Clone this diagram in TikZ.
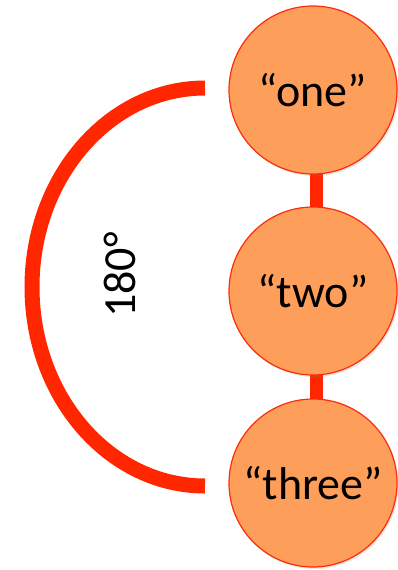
\documentclass[tikz,border=0pt]{standalone}
\usepackage{fontspec}
\setmainfont{Carlito}
\usetikzlibrary{shadows}
\definecolor{ballfill}{RGB}{253,158,90}
\definecolor{ballline}{RGB}{252,45,10}
\definecolor{linkred}{RGB}{255,38,0}
\begin{document}
\begin{tikzpicture}[x=1pt,y=-1pt,
  ball/.style={circle, draw=ballline, line width=1.2pt, fill=ballfill,
    minimum size=168pt, inner sep=0pt, font=\fontsize{46}{50}\selectfont,
    drop shadow={shadow xshift=1.5pt, shadow yshift=-2pt, opacity=0.2}},
  link/.style={draw=linkred, line width=13pt},
  sweep/.style={draw=linkred, line width=15pt, line cap=butt}]
\useasboundingbox (0,0) rectangle (397,570);
% rod segments behind the balls
\coordinate (r1) at (316,90);
\coordinate (r3) at (316,483);
\draw[link] (r1) -- (r3);
% the three balls
\node[ball] (one) at (313,90) {“one”};
\node[ball] (two) at (313,291) {“two”};
\node[ball] (three) at (313,483) {“three”};
% half-turn sweep and its label
\coordinate (s1) at (205,88);
\draw[sweep] (s1) arc[start angle=-90, end angle=-270, x radius=173, y radius=199];
\node[rotate=90, font=\fontsize{46}{50}\selectfont] (deg) at (120,275) {180°};
\end{tikzpicture}
\end{document}
